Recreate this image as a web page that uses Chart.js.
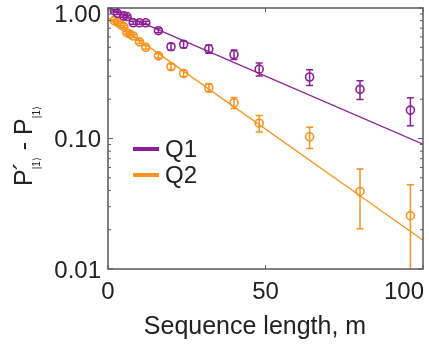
<!DOCTYPE html>
<html>
<head>
<meta charset="utf-8">
<script src="https://cdn.jsdelivr.net/npm/chart.js@4.4.0/dist/chart.umd.min.js"></script>
<style>
  html, body { margin: 0; padding: 0; background: #fff; }
</style>
</head>
<body>
<canvas id="grafico" width="429" height="348"></canvas>
<script>
// datos
const mQ1   = [2, 3, 5, 6, 8, 10, 12, 16, 20, 24, 32, 40, 48, 64, 80, 96];
const q1    = [0.95, 0.91, 0.87, 0.86, 0.77, 0.77, 0.77, 0.67, 0.505, 0.527, 0.485, 0.44, 0.34, 0.296, 0.238, 0.165];
const q1Err = [0.02, 0.02, 0.02, 0.02, 0.02, 0.02, 0.02, 0.025, 0.03, 0.03, 0.035, 0.037, 0.039, 0.041, 0.039, 0.04];

const mQ2   = [2, 3, 4, 5, 6, 7, 8, 10, 12, 16, 20, 24, 32, 40, 48, 64, 80, 96];
const q2    = [0.80, 0.78, 0.745, 0.72, 0.647, 0.63, 0.61, 0.55, 0.50, 0.43, 0.355, 0.315, 0.245, 0.188, 0.131, 0.103, 0.0393, 0.0256];
const q2Err = [0.015, 0.015, 0.015, 0.015, 0.015, 0.015, 0.015, 0.015, 0.015, 0.016, 0.017, 0.017, 0.018, 0.018, 0.019, 0.019, 0.019, 0.0187];

// rectas de ajuste (extremos en m = 0 y m = 100)
const fitM  = [0, 100];
const fitQ1 = [1.0, 0.0906];
const fitQ2 = [0.84, 0.0166];

const xTicks      = [0, 50, 100];
const xTickLabels = ["0", "50", "100"];
const yTicks      = [0.01, 0.1, 1];
const yTickLabels = ["0.01", "0.10", "1.00"];
const seriesNames = ["Q1", "Q2"];
const xTitle      = "Sequence length, m";

const MORADO  = "#8c1f95";
const NARANJA = "#f7931e";
const GRIS    = "#5a5a5a";
const TEXTO   = "#222222";
const FUENTE  = "Arial, 'Liberation Sans', Helvetica, sans-serif";

const pares = (xs, ys) => xs.map((v, i) => ({ x: v, y: ys[i] }));

const ejes = {
  id: "ejes",
  beforeDatasetsDraw(chart) {
    const { ctx, chartArea: a, scales: { x, y } } = chart;
    ctx.save();
    ctx.beginPath();
    ctx.rect(a.left, a.top, a.right - a.left, a.bottom - a.top);
    ctx.clip();
    chart.data.datasets.forEach(ds => {
      if (!ds.errs) return;
      ctx.strokeStyle = ds.borderColor;
      ctx.lineWidth = 1.5;
      ds.data.forEach((p, i) => {
        const px = x.getPixelForValue(p.x);
        const y1 = y.getPixelForValue(p.y + ds.errs[i]);
        const y2 = y.getPixelForValue(Math.max(p.y - ds.errs[i], 1e-4));
        ctx.beginPath();
        ctx.moveTo(px, y1); ctx.lineTo(px, y2);
        ctx.moveTo(px - 3.5, y1); ctx.lineTo(px + 3.5, y1);
        ctx.moveTo(px - 3.5, y2); ctx.lineTo(px + 3.5, y2);
        ctx.stroke();
      });
    });
    ctx.restore();
  },
  afterDraw(chart) {
    const { ctx, chartArea: a, scales: { x, y } } = chart;
    ctx.save();

    // marco
    ctx.strokeStyle = GRIS;
    ctx.lineWidth = 1.5;
    ctx.strokeRect(a.left, a.top, a.right - a.left, a.bottom - a.top);

    // marcas hacia dentro
    ctx.lineWidth = 1;
    ctx.beginPath();
    xTicks.forEach(v => {
      const px = x.getPixelForValue(v);
      ctx.moveTo(px, a.bottom); ctx.lineTo(px, a.bottom - 4);
      ctx.moveTo(px, a.top);    ctx.lineTo(px, a.top + 4);
    });
    yTicks.forEach(v => {
      const py = y.getPixelForValue(v);
      ctx.moveTo(a.left, py);  ctx.lineTo(a.left + 5, py);
      ctx.moveTo(a.right, py); ctx.lineTo(a.right - 5, py);
    });
    yTicks.slice(0, -1).forEach(d => {
      for (let k = 2; k <= 9; k++) {
        const py = y.getPixelForValue(k * d);
        ctx.moveTo(a.left, py);  ctx.lineTo(a.left + 3, py);
        ctx.moveTo(a.right, py); ctx.lineTo(a.right - 3, py);
      }
    });
    ctx.stroke();

    // etiquetas
    ctx.fillStyle = TEXTO;
    ctx.font = `24px ${FUENTE}`;
    ctx.textAlign = "right";
    ctx.textBaseline = "middle";
    yTicks.forEach((v, i) => {
      const py = Math.max(y.getPixelForValue(v) + 2, 15);
      ctx.fillText(yTickLabels[i], a.left - 7, py);
    });
    ctx.textAlign = "center";
    xTicks.forEach((v, i) => {
      const w = ctx.measureText(xTickLabels[i]).width;
      const px = Math.min(x.getPixelForValue(v), 424 - w / 2);
      ctx.fillText(xTickLabels[i], px, 292);
    });

    // título eje x
    ctx.font = `25px ${FUENTE}`;
    ctx.fillText(xTitle, 255, 327);

    // leyenda
    [MORADO, NARANJA].forEach((col, i) => {
      const ly = 149 + i * 26;
      ctx.strokeStyle = col;
      ctx.lineWidth = 4;
      ctx.beginPath();
      ctx.moveTo(133, ly); ctx.lineTo(159, ly);
      ctx.stroke();
      ctx.fillStyle = TEXTO;
      ctx.textAlign = "left";
      ctx.font = `24px ${FUENTE}`;
      ctx.fillText(seriesNames[i], 165, ly + 1);
    });

    // título eje y: P´|1⟩ - P|1⟩ (rotado)
    ctx.translate(32, 146);
    ctx.rotate(-Math.PI / 2);
    ctx.textAlign = "left";
    ctx.textBaseline = "alphabetic";
    const grande = `25px ${FUENTE}`;
    const chica  = `10px ${FUENTE}`;
    const partes = [
      { t: "P", f: grande, dy: 0 },
      { t: "|1⟩", f: chica, dy: 8, prima: true },
      { t: " - ", f: grande, dy: 0 },
      { t: "P", f: grande, dy: 0 },
      { t: "|1⟩", f: chica, dy: 8 }
    ];
    let total = 0;
    partes.forEach(p => { ctx.font = p.f; p.w = ctx.measureText(p.t).width; total += p.w; });
    let cx = -total / 2;
    partes.forEach(p => {
      ctx.font = p.f;
      ctx.fillText(p.t, cx, p.dy);
      if (p.prima) {
        ctx.font = grande;
        ctx.fillText("´", cx - 1, 0);
      }
      cx += p.w;
    });

    ctx.restore();
  }
};

new Chart(document.getElementById("grafico"), {
  type: "scatter",
  data: {
    datasets: [
      {
        label: "ajuste Q1", data: pares(fitM, fitQ1), showLine: true,
        borderColor: MORADO, borderWidth: 1.3, pointRadius: 0
      },
      {
        label: "ajuste Q2", data: pares(fitM, fitQ2), showLine: true,
        borderColor: NARANJA, borderWidth: 1.3, pointRadius: 0
      },
      {
        label: seriesNames[0], data: pares(mQ1, q1), errs: q1Err,
        borderColor: MORADO, backgroundColor: "rgba(0,0,0,0)",
        pointRadius: 4, pointBorderWidth: 1.6
      },
      {
        label: seriesNames[1], data: pares(mQ2, q2), errs: q2Err,
        borderColor: NARANJA, backgroundColor: "rgba(0,0,0,0)",
        pointRadius: 4, pointBorderWidth: 1.6
      }
    ]
  },
  options: {
    responsive: false,
    animation: false,
    layout: { padding: { left: 108, right: 6, top: 8, bottom: 79 } },
    plugins: { legend: { display: false }, tooltip: { enabled: false } },
    scales: {
      x: { type: "linear", min: 0, max: 100, display: false },
      y: { type: "logarithmic", min: 0.01, max: 1, display: false }
    }
  },
  plugins: [ejes]
});
</script>
</body>
</html>
